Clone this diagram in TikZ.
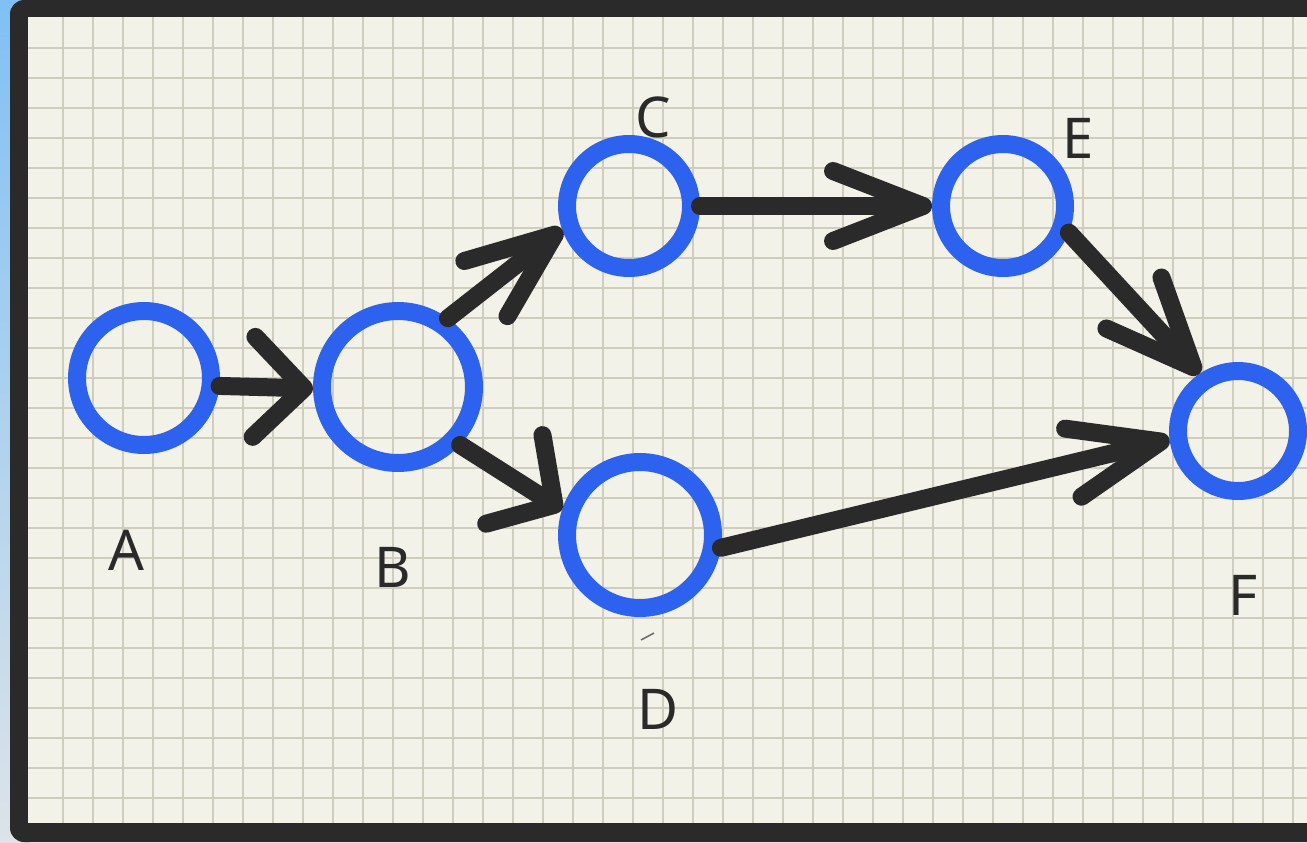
\documentclass[tikz,border=0pt]{standalone}
\usepackage{fontspec}
\setmainfont{Noto Sans}
\usetikzlibrary{arrows.meta}

\definecolor{ringblue}{HTML}{2D62EE}
\definecolor{ink}{HTML}{2A2A2A}
\definecolor{paper}{HTML}{F3F2E8}
\definecolor{gridgray}{HTML}{CFCDBD}
\definecolor{sideblue}{HTML}{80C0F4}
\definecolor{sidegray}{HTML}{DDE3E8}

\tikzset{
  state/.style={circle,draw=ringblue,line width=0.36cm,inner sep=0pt},
  flow/.style 2 args={draw=ink,line width=0.36cm,line cap=round,
    -{Straight Barb[length=#1,width=#2,round]}},
  tag/.style={font=\fontsize{32}{32}\selectfont,text=ink,inner sep=0pt},
  gridline/.style={draw=gridgray,line width=0.04cm}
}

\begin{document}
\begin{tikzpicture}[x=0.02cm,y=-0.02cm]
  \useasboundingbox (0,0) rectangle (1307,842);
  % page behind the sheet
  \shade[top color=sideblue,bottom color=sidegray] (0,0) rectangle (30,842);
  \fill[ink,rounded corners=8] (10,0) rectangle (1340,842);
  \fill[paper] (28,17) rectangle (1307,823);
  \begin{scope}
    \clip (28,17) rectangle (1307,823);
    \foreach \gx in {63,93,...,1303} \draw[gridline] (\gx,17) -- (\gx,823);
    \foreach \gy in {48,78,...,818} \draw[gridline] (28,\gy) -- (1307,\gy);
  \end{scope}

  \node[state,minimum size=2.68cm] (A) at (144,378) {};
  \node[state,minimum size=3.04cm] (B) at (398,387) {};
  \node[state,minimum size=2.48cm] (C) at (629,206) {};
  \node[state,minimum size=2.92cm] (D) at (640,535) {};
  \node[state,minimum size=2.48cm] (E) at (1003,206) {};
  \node[state,minimum size=2.40cm] (F) at (1238,431) {};

  \node[tag] (lA) at (126,550) {A};
  \node[tag] (lB) at (393,567) {B};
  \node[tag] (lC) at (653,117) {C};
  \node[tag] (lD) at (658,709) {D};
  \node[tag] (lE) at (1078,138) {E};
  \node[tag] (lF) at (1243,595) {F};

  % stray pen mark under D
  \coordinate (m1) at (641,640);
  \coordinate (m2) at (654,633);
  \draw[ink!70,line width=0.03cm] (m1) -- (m2);

  \draw[flow={1.0cm}{2.0cm}]   (A.-6)  -- (B.181);
  \draw[flow={1.75cm}{1.4cm}]  (B.54)  -- (C.199);
  \draw[flow={0.95cm}{2.1cm}]  (B.-43) -- (D.162);
  \draw[flow={1.8cm}{1.4cm}]   (C)     -- (E);
  \draw[flow={1.8cm}{1.4cm}]   (D.-9)  -- (F.187);
  \draw[flow={1.75cm}{1.5cm}]  (E.-22) -- (F.124);
\end{tikzpicture}
\end{document}
